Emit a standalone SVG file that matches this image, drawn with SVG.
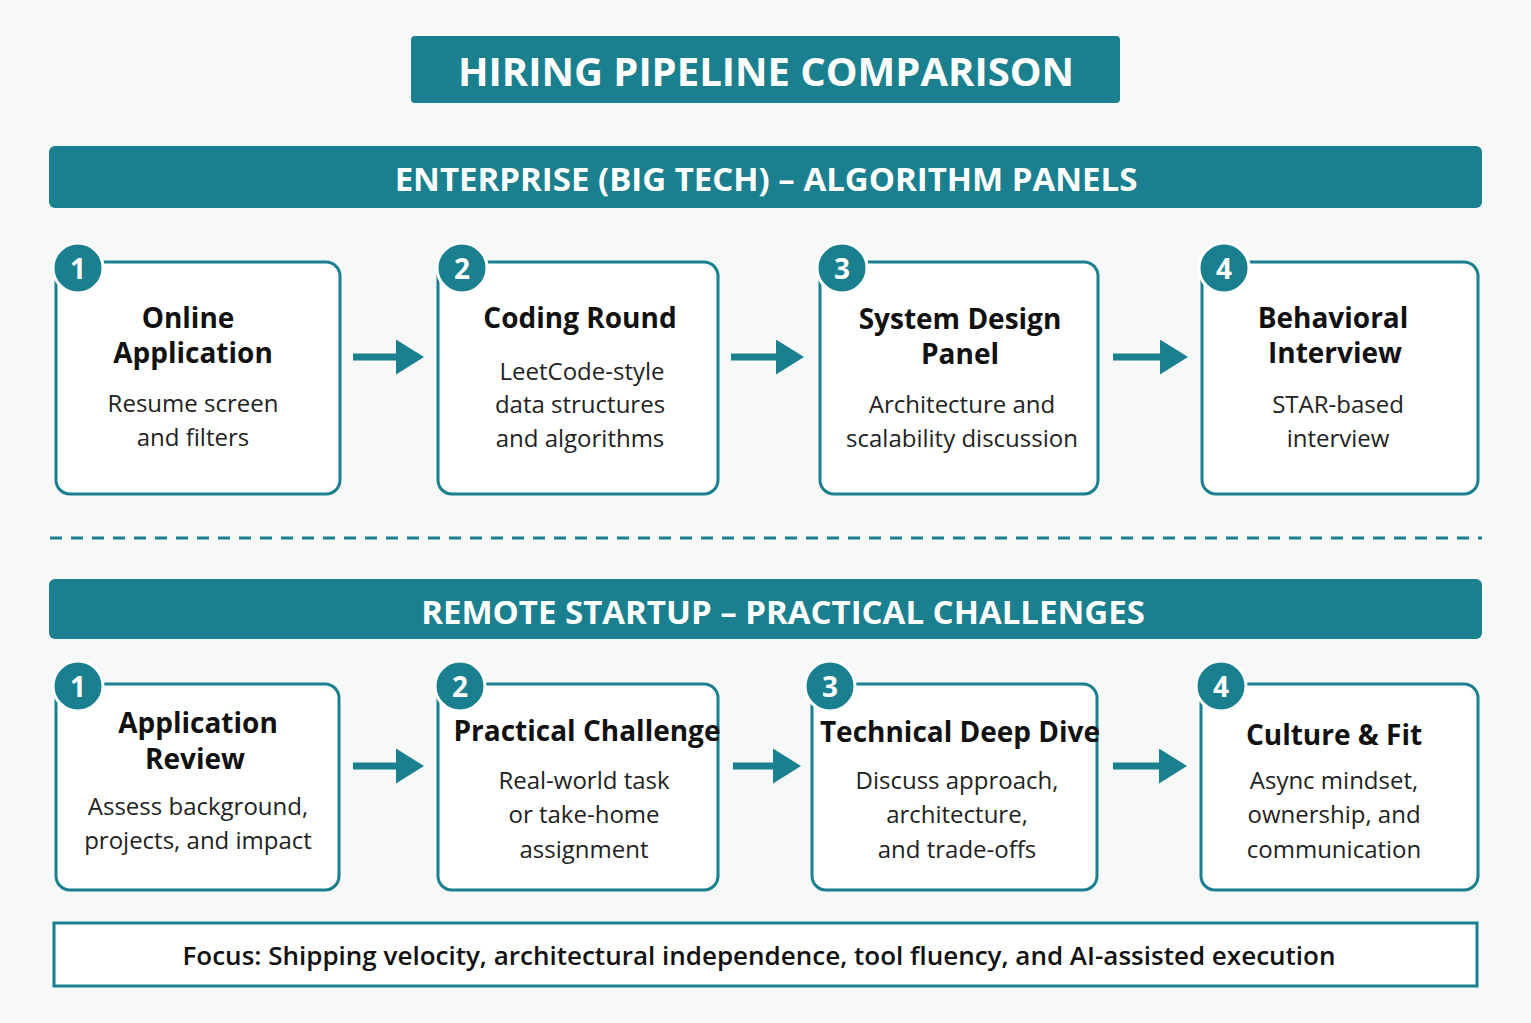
<svg xmlns="http://www.w3.org/2000/svg" width="1531" height="1023" viewBox="0 0 1531 1023">
<defs>
<style>
.t{font-family:"Open Sans","Liberation Sans",sans-serif;fill:#111;text-anchor:middle}
.h{font-weight:700;font-size:28px}
.d{font-size:24px;fill:#222}
.bar{fill:#1a7f8e}
.bt{font-family:"Open Sans","Liberation Sans",sans-serif;font-weight:700;fill:#fff;text-anchor:middle}
.box{fill:#fff;stroke:#1a7f8e;stroke-width:3}
.badge{fill:#1a7f8e;stroke:#fff;stroke-width:3}
.bn{font-family:"Open Sans","Liberation Sans",sans-serif;font-weight:700;font-size:28px;fill:#fff;text-anchor:middle}
.arr{stroke:#1a7f8e;stroke-width:7;fill:none}
</style>
<marker id="ah" markerWidth="4" markerHeight="5" refX="2" refY="2.5" orient="auto" markerUnits="strokeWidth"><path d="M0,0L4,2.5L0,5z" fill="#1a7f8e"/></marker>
</defs>
<rect width="1531" height="1023" fill="#f7f8f8"/>
<g id="title"><rect x="411" y="36" width="709" height="67" rx="4" class="bar"/><text x="766" y="86" class="bt" font-size="40">HIRING PIPELINE COMPARISON</text></g>
<g id="hdr1"><rect x="49" y="146" width="1433" height="62" rx="6" class="bar"/><text x="766" y="191" class="bt" font-size="33">ENTERPRISE (BIG TECH) – ALGORITHM PANELS</text></g>
<line x1="50" y1="538" x2="1482" y2="538" stroke="#1a7f8e" stroke-width="3" stroke-dasharray="12,9"/>
<g id="hdr2"><rect x="49" y="579" width="1433" height="60" rx="6" class="bar"/><text x="783" y="624" class="bt" font-size="33">REMOTE STARTUP – PRACTICAL CHALLENGES</text></g>

<g id="e1"><rect x="56" y="262" width="284" height="232" rx="14" class="box"/><circle cx="78" cy="268" r="25" class="badge"/><text x="78" y="279" class="bn">1</text>
<text class="t h" x="188" y="328">Online</text><text class="t h" x="193" y="363">Application</text>
<text class="t d" x="193" y="412">Resume screen</text><text class="t d" x="193" y="446">and filters</text></g>
<g id="e2"><rect x="438" y="262" width="280" height="232" rx="14" class="box"/><circle cx="462" cy="268" r="25" class="badge"/><text x="462" y="279" class="bn">2</text>
<text class="t h" x="580" y="328">Coding Round</text>
<text class="t d" x="582" y="380">LeetCode-style</text><text class="t d" x="580" y="413">data structures</text><text class="t d" x="580" y="447">and algorithms</text></g>
<g id="e3"><rect x="820" y="262" width="278" height="232" rx="14" class="box"/><circle cx="842" cy="268" r="25" class="badge"/><text x="842" y="279" class="bn">3</text>
<text class="t h" x="960" y="329">System Design</text><text class="t h" x="960" y="364">Panel</text>
<text class="t d" x="962" y="413">Architecture and</text><text class="t d" x="962" y="447">scalability discussion</text></g>
<g id="e4"><rect x="1202" y="262" width="276" height="232" rx="14" class="box"/><circle cx="1224" cy="268" r="25" class="badge"/><text x="1224" y="279" class="bn">4</text>
<text class="t h" x="1333" y="328">Behavioral</text><text class="t h" x="1335" y="363">Interview</text>
<text class="t d" x="1338" y="413">STAR-based</text><text class="t d" x="1338" y="447">interview</text></g>

<g id="s1"><rect x="56" y="684" width="283" height="206" rx="14" class="box"/><circle cx="78" cy="686" r="25" class="badge"/><text x="78" y="697" class="bn">1</text>
<text class="t h" x="198" y="733">Application</text><text class="t h" x="195" y="769">Review</text>
<text class="t d" x="198" y="815">Assess background,</text><text class="t d" x="198" y="849">projects, and impact</text></g>
<g id="s2"><rect x="438" y="684" width="280" height="206" rx="14" class="box"/><circle cx="460" cy="686" r="25" class="badge"/><text x="460" y="697" class="bn">2</text>
<text class="t h" x="587" y="741">Practical Challenge</text>
<text class="t d" x="584" y="789">Real-world task</text><text class="t d" x="584" y="823">or take-home</text><text class="t d" x="584" y="858">assignment</text></g>
<g id="s3"><rect x="812" y="684" width="285" height="206" rx="14" class="box"/><circle cx="830" cy="686" r="25" class="badge"/><text x="830" y="697" class="bn">3</text>
<text class="t h" x="960" y="742">Technical Deep Dive</text>
<text class="t d" x="957" y="789">Discuss approach,</text><text class="t d" x="957" y="823">architecture,</text><text class="t d" x="957" y="858">and trade-offs</text></g>
<g id="s4"><rect x="1201" y="684" width="277" height="206" rx="14" class="box"/><circle cx="1221" cy="686" r="25" class="badge"/><text x="1221" y="697" class="bn">4</text>
<text class="t h" x="1334" y="745">Culture &amp; Fit</text>
<text class="t d" x="1334" y="789">Async mindset,</text><text class="t d" x="1334" y="823">ownership, and</text><text class="t d" x="1334" y="858">communication</text></g>

<g id="connectors">
<line x1="353" y1="357" x2="410" y2="357" class="arr" marker-end="url(#ah)"/>
<line x1="731" y1="357" x2="790" y2="357" class="arr" marker-end="url(#ah)"/>
<line x1="1113" y1="357" x2="1174" y2="357" class="arr" marker-end="url(#ah)"/>
<line x1="353" y1="766" x2="410" y2="766" class="arr" marker-end="url(#ah)"/>
<line x1="733" y1="766" x2="787" y2="766" class="arr" marker-end="url(#ah)"/>
<line x1="1113" y1="766" x2="1173" y2="766" class="arr" marker-end="url(#ah)"/>
</g>
<g id="focus"><rect x="54" y="923" width="1423" height="63" fill="#fff" stroke="#1a7f8e" stroke-width="3"/><text class="t" x="759" y="965" font-size="26" font-weight="600">Focus: Shipping velocity, architectural independence, tool fluency, and AI-assisted execution</text></g>
</svg>
